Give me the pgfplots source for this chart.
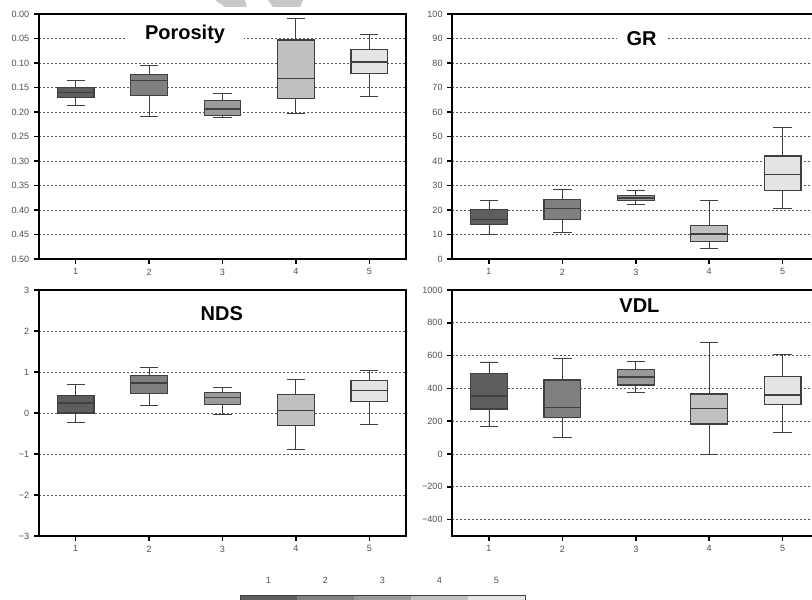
\documentclass[border=0pt]{standalone}
\usepackage{pgfplots}
\pgfplotsset{compat=1.18}
\usepackage{pgfplotstable}
\usepgfplotslibrary{statistics}
\usepackage{fontspec}
\setmainfont{Liberation Sans}

\definecolor{c1}{HTML}{5E5E5E}
\definecolor{c2}{HTML}{808080}
\definecolor{c3}{HTML}{9A9A9A}
\definecolor{c4}{HTML}{C0C0C0}
\definecolor{c5}{HTML}{E4E4E4}
\definecolor{edge}{HTML}{404040}
\definecolor{tickgray}{HTML}{505050}
\definecolor{gridgray}{HTML}{555555}
\definecolor{wmark}{HTML}{C8C8C8}

% lw = lower whisker, lq/med/uq = quartiles and median, uw = upper whisker
\pgfplotstableread{
lw    lq    med   uq    uw
0.136 0.150 0.160 0.170 0.186
0.105 0.124 0.135 0.166 0.210
0.163 0.176 0.194 0.207 0.211
0.010 0.053 0.132 0.173 0.203
0.041 0.072 0.098 0.121 0.168
}\porosity

\pgfplotstableread{
lw    lq    med   uq    uw
9.9   14.1  16.2  20.1  23.9
10.9  16.2  20.5  24.2  28.4
22.3  23.9  24.9  26.0  28.1
4.4   7.1   10.2  13.6  23.7
20.7  28.0  34.4  42.0  53.8
}\gr

\pgfplotstableread{
lw    lq    med   uq    uw
-0.22 0.00  0.245 0.42  0.70
0.19  0.47  0.73  0.91  1.12
-0.04 0.20  0.38  0.50  0.63
-0.90 -0.30 0.056 0.46  0.82
-0.29 0.28  0.54  0.79  1.03
}\nds

\pgfplotstableread{
lw    lq    med   uq    uw
166   274   354   492   561
99    223   284   451   583
378   421   469   514   567
-4    183   278   366   681
134   301   360   473   605
}\vdl

% one box: table, row, draw position, fill colour
\newcommand{\bx}[4]{%
  \pgfplotstablegetelem{#2}{lw}\of#1\let\vlw\pgfplotsretval
  \pgfplotstablegetelem{#2}{lq}\of#1\let\vlq\pgfplotsretval
  \pgfplotstablegetelem{#2}{med}\of#1\let\vmed\pgfplotsretval
  \pgfplotstablegetelem{#2}{uq}\of#1\let\vuq\pgfplotsretval
  \pgfplotstablegetelem{#2}{uw}\of#1\let\vuw\pgfplotsretval
  \edef\tmp{\noexpand\addplot[draw=edge, fill=#4, line width=0.9pt,
    boxplot prepared={draw position=#3,
      lower whisker=\vlw, lower quartile=\vlq, median=\vmed,
      upper quartile=\vuq, upper whisker=\vuw}] coordinates {};}%
  \tmp}

\pgfplotsset{
  panel/.style={
    scale only axis, width=275.25pt, anchor=south west,
    xmin=0.5, xmax=5.5, xtick={1,2,3,4,5}, xticklabels={1,2,3,4,5},
    tick align=outside, xtick pos=left, ytick pos=left,
    major tick length=3.75pt,
    tick style={black, line width=1.1pt},
    axis line style={black, line width=1.2pt},
    ymajorgrids,
    major grid style={gridgray, line width=0.6pt, dash pattern=on 1.5pt off 1.5pt},
    tick label style={font=\fontsize{6.8}{7}\selectfont, text=tickgray},
    boxplot/draw direction=y,
    boxplot/box extend=0.5, boxplot/whisker extend=0.25,
    boxplot/every whisker/.style={line width=0.65pt},
    boxplot/every median/.style={line width=0.9pt},
  },
}
\tikzset{ttl/.style={font=\bfseries\fontsize{15}{16}\selectfont, inner ysep=1pt}}

\begin{document}
\begin{tikzpicture}
\path[use as bounding box, clip] (0,0) rectangle (609pt,449.25pt);

% faint watermark at the top edge
\fill[wmark] (161.25pt,449.25pt) -- (183.75pt,449.25pt) -- (185pt,444pt) -- (168.75pt,444pt) -- cycle;
\fill[wmark] (201pt,449.25pt) -- (227.25pt,449.25pt) -- (225pt,444pt) -- (204.75pt,444pt) -- cycle;

% Porosity
\begin{axis}[panel, at={(29.25pt,255pt)}, height=183.75pt,
  y dir=reverse, ymin=0, ymax=0.5,
  ytick={0,0.05,0.1,0.15,0.2,0.25,0.3,0.35,0.4,0.45,0.5},
  yticklabels={0.00,0.05,0.10,0.15,0.20,0.25,0.30,0.35,0.40,0.45,0.50}]
  \bx{\porosity}{0}{1}{c1}
  \bx{\porosity}{1}{2}{c2}
  \bx{\porosity}{2}{3}{c3}
  \bx{\porosity}{3}{4}{c4}
  \bx{\porosity}{4}{5}{c5}
  \node[ttl, fill=white, inner xsep=14pt] at (axis cs:2.49,0.041) {Porosity};
\end{axis}

% GR
\begin{axis}[panel, at={(339.2pt,255pt)}, height=183.75pt,
  ymin=0, ymax=100,
  ytick={0,10,20,30,40,50,60,70,80,90,100},
  yticklabels={0,10,20,30,40,50,60,70,80,90,100}]
  \bx{\gr}{0}{1}{c1}
  \bx{\gr}{1}{2}{c2}
  \bx{\gr}{2}{3}{c3}
  \bx{\gr}{3}{4}{c4}
  \bx{\gr}{4}{5}{c5}
  \node[ttl, fill=white, inner xsep=7.5pt] at (axis cs:3.08,90) {GR};
\end{axis}

% NDS
\begin{axis}[panel, at={(29.25pt,47.25pt)}, height=184.5pt,
  ymin=-3, ymax=3,
  ytick={-3,-2,-1,0,1,2,3},
  yticklabels={−3,−2,−1,0,1,2,3}]
  \bx{\nds}{0}{1}{c1}
  \bx{\nds}{1}{2}{c2}
  \bx{\nds}{2}{3}{c3}
  \bx{\nds}{3}{4}{c4}
  \bx{\nds}{4}{5}{c5}
  \node[ttl] at (axis cs:2.99,2.43) {NDS};
\end{axis}

% VDL
\begin{axis}[panel, at={(339.2pt,47.25pt)}, height=184.5pt,
  ymin=-500, ymax=1000,
  ytick={-400,-200,0,200,400,600,800,1000},
  yticklabels={−400,−200,0,200,400,600,800,1000}]
  \bx{\vdl}{0}{1}{c1}
  \bx{\vdl}{1}{2}{c2}
  \bx{\vdl}{2}{3}{c3}
  \bx{\vdl}{3}{4}{c4}
  \bx{\vdl}{4}{5}{c5}
  \node[ttl] at (axis cs:3.05,904) {VDL};
\end{axis}

% colour key at the bottom
\begin{axis}[at={(180pt,-3pt)}, anchor=south west, scale only axis,
  width=213.75pt, height=6pt,
  xmin=0.5, xmax=5.5, ymin=0, ymax=1,
  ybar, bar width=42.75pt,
  xtick={1,2,3,4,5}, xticklabels={1,2,3,4,5}, xticklabel pos=right,
  ytick={0,1}, yticklabels={,}, major tick length=0pt,
  axis line style={edge, line width=0.5pt}, axis on top,
  tick label style={font=\fontsize{6.8}{7}\selectfont, text=tickgray},
  xticklabel style={yshift=5pt}]
  \addplot[bar shift=0pt, fill=c1, draw=none] coordinates {(1,1)};
  \addplot[bar shift=0pt, fill=c2, draw=none] coordinates {(2,1)};
  \addplot[bar shift=0pt, fill=c3, draw=none] coordinates {(3,1)};
  \addplot[bar shift=0pt, fill=c4, draw=none] coordinates {(4,1)};
  \addplot[bar shift=0pt, fill=c5, draw=none] coordinates {(5,1)};
\end{axis}
\end{tikzpicture}
\end{document}
